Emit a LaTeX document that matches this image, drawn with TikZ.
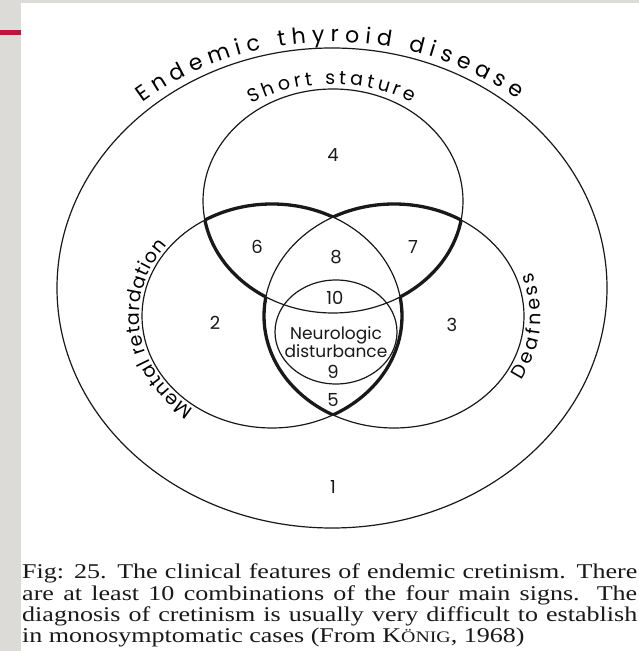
\documentclass[tikz,border=0pt]{standalone}
\usepackage{fontspec}
\usepackage{graphicx}
\setmainfont{Liberation Serif}
\newfontfamily\vennfont{Poppins}
\usetikzlibrary{decorations.text}
\definecolor{slideGray}{RGB}{221,219,215}
\definecolor{slideRed}{RGB}{192,20,60}
\definecolor{inkBlack}{RGB}{25,25,25}
\tikzset{
  set/.style={draw=inkBlack, line width=1.2pt},
  core/.style={draw=inkBlack, line width=3.3pt},
  big/.style={x radius=130pt, y radius=112pt},
  num/.style={font=\vennfont\fontsize{18}{18}\selectfont, text=inkBlack, inner sep=0pt},
  arctext/.style={decorate, decoration={text along path, text align={fit to path}, raise=#1}}
}

\begin{document}
\begin{tikzpicture}[x=1pt, y=1pt]
  \fill[white] (0,0) rectangle (639,651);
  \fill[slideGray] (0,0) rectangle (21,651);
  \fill[slideGray] (0,648) rectangle (639,651);
  \fill[slideRed] (0,616) rectangle (21,621);
  \useasboundingbox (0,0) rectangle (639,651);

  \coordinate (thyroid) at (332,363);
  \coordinate (stature) at (333,450);
  \coordinate (mental) at (272,335);
  \coordinate (deaf) at (394,335);
  \coordinate (neuro) at (336,319);

  \draw[set] (thyroid) ellipse [x radius=275pt, y radius=240pt];
  \draw[set] (stature) ellipse [big];
  \draw[set] (mental) ellipse [big];
  \draw[set] (deaf) ellipse [big];
  \draw[set] (neuro) ellipse [x radius=61pt, y radius=52pt];

  \begin{scope}[even odd rule]
    \clip (mental) ellipse [big] (deaf) ellipse [big];
    \draw[core] (stature) ellipse [big];
  \end{scope}
  \begin{scope}[even odd rule]
    \clip (stature) ellipse [big] (deaf) ellipse [big];
    \draw[core] (mental) ellipse [big];
  \end{scope}
  \begin{scope}[even odd rule]
    \clip (stature) ellipse [big] (mental) ellipse [big];
    \draw[core] (deaf) ellipse [big];
  \end{scope}

  \path[arctext=0pt, decoration={text={|\vennfont\fontsize{22}{22}\selectfont|Endemic thyroid disease}}]
    ([shift={(131:289pt and 246pt)}]thyroid) arc [start angle=131, end angle=50, x radius=289pt, y radius=246pt];
  \path[arctext=0pt, decoration={text={|\vennfont\fontsize{19}{19}\selectfont|Short stature}}]
    ([shift={(124:146pt and 117pt)}]stature) arc [start angle=124, end angle=57, x radius=146pt, y radius=117pt];
  \path[arctext=3pt, decoration={text={|\vennfont\fontsize{19}{19}\selectfont|Mental retardation}}]
    ([shift={(234:130pt and 112pt)}]mental) arc [start angle=234, end angle=142, big];
  \path[arctext=-17pt, decoration={text={|\vennfont\fontsize{19}{19}\selectfont|Deafness}}]
    ([shift={(-30:130pt and 112pt)}]deaf) arc [start angle=-30, end angle=20, big];

  \node[num] (r4) at (333,496) {4};
  \node[num] (r6) at (257,404) {6};
  \node[num] (r8) at (336,394) {8};
  \node[num] (r7) at (413,404) {7};
  \node[num] (r10) at (335,353) {10};
  \node[num] (r2) at (215,328) {2};
  \node[num] (r3) at (452,326) {3};
  \node[num, align=center, font=\vennfont\fontsize{17}{18}\selectfont] (nd) at (336,309) {Neurologic\\disturbance};
  \node[num] (r9) at (333,279) {9};
  \node[num] (r5) at (333,251) {5};
  \node[num] (r1) at (333,164) {1};

  \node[anchor=base west, inner sep=0pt, text=inkBlack] (caption) at (22,72)
    {\scalebox{1.24}[1]{\parbox[t]{496pt}{\fontsize{21}{21.3}\selectfont
    \spaceskip=0.25em plus 1em minus 0.12em
    Fig: 25. The clinical features of endemic cretinism. There\linebreak
    are at least 10 combinations of the four main signs. The\linebreak
    diagnosis of cretinism is usually very difficult to establish\linebreak
    in monosymptomatic cases (From K{\fontsize{16}{16}\selectfont ÖNIG}, 1968)}}};
\end{tikzpicture}
\end{document}
